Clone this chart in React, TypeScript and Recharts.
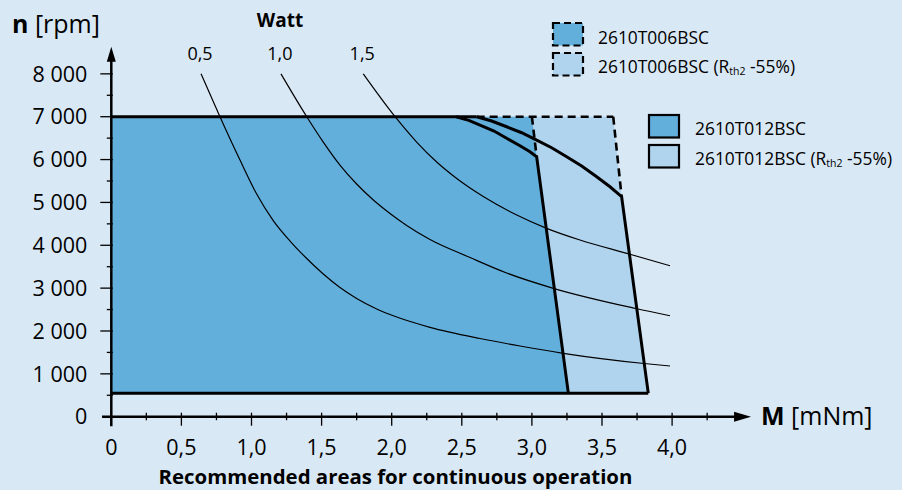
import { ComposedChart, Area, Line, XAxis, YAxis, ReferenceLine, ReferenceDot } from 'recharts';

const FONT = '"Open Sans", "DejaVu Sans", sans-serif';
const BG = '#d9e8f5';
const DARK = '#63afdc';
const LIGHT = '#b1d4ee';
const INK = '#000';

// torque M [mNm] / speed n [rpm]
const minSpeed = 550;
const maxSpeed = 7000;

// 2610T012BSC speed limit curve, then thermal limit line
const t012Curve = [
  { m: 2.46, n: 7000 },
  { m: 2.55, n: 6915 },
  { m: 2.63, n: 6806 },
  { m: 2.73, n: 6666 },
  { m: 2.82, n: 6496 },
  { m: 2.915, n: 6323 },
  { m: 2.986, n: 6183 },
  { m: 3.034, n: 6066 },
];
const t012Edge = [...t012Curve, { m: 3.26, n: minSpeed }];

// 2610T012BSC (Rth2 -55%)
const t012RthCurve = [
  { m: 2.606, n: 7000 },
  { m: 2.713, n: 6899 },
  { m: 2.82, n: 6766 },
  { m: 2.927, n: 6626 },
  { m: 3.034, n: 6455 },
  { m: 3.141, n: 6276 },
  { m: 3.248, n: 6066 },
  { m: 3.355, n: 5849 },
  { m: 3.462, n: 5600 },
  { m: 3.557, n: 5366 },
  { m: 3.64, n: 5133 },
];
const t012RthEdge = [...t012RthCurve, { m: 3.83, n: minSpeed }];

// 2610T006BSC: straight edge up to max speed
const t006Edge = [{ m: 3.0, n: 7000 }, { m: 3.034, n: 6066 }];
const t006RthEdge = [{ m: 3.58, n: 7000 }, { m: 3.64, n: 5133 }];

const t006Area = [{ m: 0, n: maxSpeed }, ...t006Edge, { m: 3.26, n: minSpeed }];
const t006RthArea = [{ m: 0, n: maxSpeed }, ...t006RthEdge, { m: 3.83, n: minSpeed }];
const t012Area = [{ m: 0, n: maxSpeed }, ...t012Edge];
const t012RthArea = [{ m: 0, n: maxSpeed }, ...t012RthEdge];

const topSolid = [{ m: 0, n: maxSpeed }, { m: 2.606, n: maxSpeed }];
const topDashed = [{ m: 2.606, n: maxSpeed }, { m: 3.58, n: maxSpeed }];
const bottomLine = [{ m: 0, n: minSpeed }, { m: 3.83, n: minSpeed }];

// constant output power curves
const wattLabels = ['0,5', '1,0', '1,5'];
const watt05 = [
  { m: 0.64, n: 8000 }, { m: 0.775, n: 7000 }, { m: 0.918, n: 5989 }, { m: 1.037, n: 5196 },
  { m: 1.155, n: 4577 }, { m: 1.275, n: 4099 }, { m: 1.394, n: 3691 }, { m: 1.512, n: 3329 },
  { m: 1.631, n: 3014 }, { m: 1.75, n: 2758 }, { m: 1.893, n: 2513 }, { m: 2.036, n: 2326 },
  { m: 2.273, n: 2086 }, { m: 2.63, n: 1824 }, { m: 2.915, n: 1649 }, { m: 3.224, n: 1479 },
  { m: 3.8, n: 1241 }, { m: 3.985, n: 1183 },
];
const watt10 = [
  { m: 1.21, n: 8000 }, { m: 1.394, n: 7000 }, { m: 1.512, n: 6409 }, { m: 1.631, n: 5872 },
  { m: 1.75, n: 5429 }, { m: 1.869, n: 5056 }, { m: 1.988, n: 4741 }, { m: 2.107, n: 4461 },
  { m: 2.273, n: 4134 }, { m: 2.559, n: 3714 }, { m: 2.82, n: 3353 }, { m: 3.153, n: 2996 },
  { m: 3.742, n: 2524 }, { m: 3.985, n: 2356 },
];
const watt15 = [
  { m: 1.797, n: 8000 }, { m: 2.024, n: 7000 }, { m: 2.178, n: 6409 }, { m: 2.321, n: 5942 },
  { m: 2.464, n: 5557 }, { m: 2.653, n: 5137 }, { m: 2.892, n: 4706 }, { m: 3.105, n: 4395 },
  { m: 3.343, n: 4122 }, { m: 3.693, n: 3796 }, { m: 3.985, n: 3523 },
];
const wattCurves = [watt05, watt10, watt15];

const xTicks = [0, 0.25, 0.5, 0.75, 1, 1.25, 1.5, 1.75, 2, 2.25, 2.5, 2.75, 3, 3.25, 3.5, 3.75, 4, 4.25];
const yTicks = [0, 500, 1000, 1500, 2000, 2500, 3000, 3500, 4000, 4500, 5000, 5500, 6000, 6500, 7000, 7500, 8000];

const legendItems = [
  { name: '2610T006BSC', rth: false, fill: DARK, dashed: true },
  { name: '2610T006BSC', rth: true, fill: LIGHT, dashed: true },
  { name: '2610T012BSC', rth: false, fill: DARK, dashed: false },
  { name: '2610T012BSC', rth: true, fill: LIGHT, dashed: false },
];

function XTick(props: any) {
  const { x, y, payload } = props;
  const v = payload.value;
  const major = Math.abs(v * 2 - Math.round(v * 2)) < 1e-6;
  return (
    <g>
      <line x1={x} x2={x} y1={y - 4} y2={major ? y + 9 : y + 3.5} stroke={INK} strokeWidth={1.3} />
      {major && (
        <text x={x} y={y + 38} textAnchor="middle" fontSize={21.5} fontFamily={FONT} fill={INK}>
          {v === 0 ? '0' : v.toFixed(1).replace('.', ',')}
        </text>
      )}
    </g>
  );
}

function YTick(props: any) {
  const { x, y, payload } = props;
  const v = payload.value;
  const major = v % 1000 === 0;
  return (
    <g>
      {v !== 0 && (
        <line x1={major ? x - 11 : x - 4.5} x2={x + 1.5} y1={y} y2={y} stroke={INK} strokeWidth={1.3} />
      )}
      {major && (
        <text x={x - 24} y={y} dy="0.36em" textAnchor="end" fontSize={21.5} fontFamily={FONT} fill={INK}>
          {v === 0 ? '0' : `${v / 1000} 000`}
        </text>
      )}
    </g>
  );
}

function UpArrow(props: any) {
  const { cx, cy } = props;
  return <path d={`M${cx},${cy} L${cx - 4.5},${cy + 15} L${cx + 4.5},${cy + 15} Z`} fill={INK} />;
}

function RightArrow(props: any) {
  const { cx, cy } = props;
  return <path d={`M${cx},${cy} L${cx - 17},${cy - 5} L${cx - 17},${cy + 5} Z`} fill={INK} />;
}

function wattLabel(i: number) {
  return (p: any) =>
    p.index === 0 ? (
      <text key="l" x={p.x - 1} y={p.y - 14} textAnchor="middle" fontSize={18} fontFamily={FONT} fill={INK}>
        {wattLabels[i]}
      </text>
    ) : null;
}

function Legend() {
  const rows = [
    { bx: 553, by: 23, tx: 598, ty: 43.5 },
    { bx: 553, by: 53, tx: 598, ty: 72.5 },
    { bx: 649, by: 115, tx: 695, ty: 135 },
    { bx: 649, by: 145, tx: 695, ty: 165 },
  ];
  return (
    <g>
      {legendItems.map((it, i) => {
        const r = rows[i];
        return (
          <g key={i}>
            <rect
              x={r.bx}
              y={r.by}
              width={30}
              height={22.5}
              fill={it.fill}
              stroke={INK}
              strokeWidth={2.2}
              strokeDasharray={it.dashed ? '7 4' : undefined}
            />
            <text x={r.tx} y={r.ty} fontSize={17.4} fontFamily={FONT} fill={INK}>
              {it.name}
              {it.rth && (
                <>
                  {' (R'}
                  <tspan fontSize={10.5} dy={2}>th2</tspan>
                  <tspan dy={-2}> -55%)</tspan>
                </>
              )}
            </text>
          </g>
        );
      })}
    </g>
  );
}

export default function App() {
  return (
    <div style={{ position: 'fixed', left: 0, top: 0, width: 902, height: 490, background: BG, overflow: 'hidden' }}>
      <ComposedChart
        width={902}
        height={490}
        margin={{ top: 31, right: 159.8, bottom: 33.3, left: 11.3 }}
        style={{ fontFamily: FONT }}
      >
        <XAxis
          type="number"
          dataKey="m"
          domain={[0, 4.5]}
          ticks={xTicks}
          interval={0}
          tick={(p: any) => <XTick {...p} />}
          tickLine={false}
          axisLine={false}
          tickSize={0}
          tickMargin={0}
          height={40}
          allowDataOverflow
        />
        <YAxis
          type="number"
          dataKey="n"
          domain={[0, 9000]}
          ticks={yTicks}
          interval={0}
          tick={(p: any) => <YTick {...p} />}
          tickLine={false}
          axisLine={false}
          tickSize={0}
          tickMargin={0}
          width={100}
          allowDataOverflow
        />

        <Area data={t006RthArea} dataKey="n" type="linear" baseValue={minSpeed} fill={LIGHT} fillOpacity={1} stroke="none" isAnimationActive={false} />
        <Area data={t012RthArea} dataKey="n" type="linear" baseValue={minSpeed} fill={LIGHT} fillOpacity={1} stroke="none" isAnimationActive={false} />
        <Area data={t006Area} dataKey="n" type="linear" baseValue={minSpeed} fill={DARK} fillOpacity={1} stroke="none" isAnimationActive={false} />
        <Area data={t012Area} dataKey="n" type="linear" baseValue={minSpeed} fill={DARK} fillOpacity={1} stroke="none" isAnimationActive={false} />

        {wattCurves.map((c, i) => (
          <Line
            key={`w${i}`}
            data={c}
            dataKey="n"
            type="monotone"
            stroke={INK}
            strokeWidth={1.2}
            dot={false}
            label={wattLabel(i)}
            isAnimationActive={false}
          />
        ))}

        <Line data={topSolid} dataKey="n" stroke={INK} strokeWidth={3} dot={false} isAnimationActive={false} />
        <Line data={topDashed} dataKey="n" stroke={INK} strokeWidth={2.6} strokeDasharray="8 5" dot={false} isAnimationActive={false} />
        <Line data={bottomLine} dataKey="n" stroke={INK} strokeWidth={3} dot={false} isAnimationActive={false} />
        <Line data={t006Edge} dataKey="n" type="linear" stroke={INK} strokeWidth={2.6} strokeDasharray="8 5" dot={false} isAnimationActive={false} />
        <Line data={t006RthEdge} dataKey="n" type="linear" stroke={INK} strokeWidth={2.6} strokeDasharray="8 5" dot={false} isAnimationActive={false} />
        <Line data={t012Edge} dataKey="n" type="linear" stroke={INK} strokeWidth={3} dot={false} isAnimationActive={false} />
        <Line data={t012RthEdge} dataKey="n" type="linear" stroke={INK} strokeWidth={3} dot={false} isAnimationActive={false} />

        <ReferenceLine segment={[{ x: -0.066, y: 0 }, { x: 4.5, y: 0 }]} stroke={INK} strokeWidth={2.5} ifOverflow="visible" />
        <ReferenceLine segment={[{ x: 0, y: -220 }, { x: 0, y: 8500 }]} stroke={INK} strokeWidth={2.5} ifOverflow="visible" />
        <ReferenceDot x={4.563} y={0} shape={RightArrow} ifOverflow="visible" />
        <ReferenceDot x={0} y={8633} shape={UpArrow} ifOverflow="visible" />
      </ComposedChart>

      <svg width={902} height={490} style={{ position: 'absolute', left: 0, top: 0, pointerEvents: 'none' }}>
        <text x={12} y={33} fontSize={25} fontFamily={FONT} fill={INK}>
          <tspan fontWeight="bold">n</tspan> [rpm]
        </text>
        <text x={280} y={27} textAnchor="middle" fontSize={19} fontWeight="bold" fontFamily={FONT} fill={INK}>
          Watt
        </text>
        <text x={761} y={425} fontSize={25} fontFamily={FONT} fill={INK}>
          <tspan fontWeight="bold">M</tspan> [mNm]
        </text>
        <text x={395.5} y={484} textAnchor="middle" fontSize={20.4} fontWeight="bold" fontFamily={FONT} fill={INK}>
          Recommended areas for continuous operation
        </text>
        <Legend />
      </svg>
    </div>
  );
}
